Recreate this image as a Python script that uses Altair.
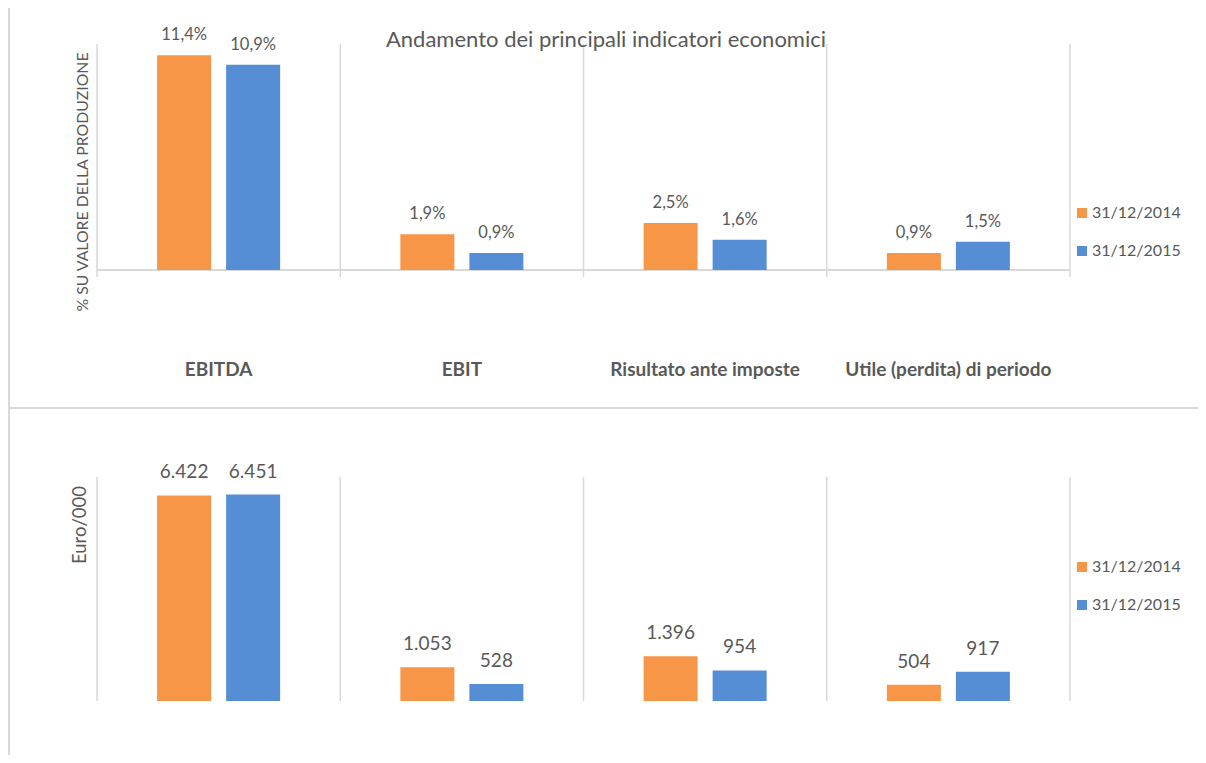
import altair as alt
import pandas as pd

categories = ["EBITDA", "EBIT", "Risultato ante imposte", "Utile (perdita) di periodo"]
series = ["31/12/2014", "31/12/2015"]
pct_2014 = [11.4, 1.9, 2.5, 0.9]
pct_2015 = [10.9, 0.9, 1.6, 1.5]
eur_2014 = [6422, 1053, 1396, 504]
eur_2015 = [6451, 528, 954, 917]

title_text = "Andamento dei principali indicatori economici"
ytitle_top = "% SU VALORE DELLA PRODUZIONE"
ytitle_bot = "Euro/000"

ORANGE = "#F79646"
BLUE = "#558ED5"
GREY = "#595959"
GRID = "#D9D9D9"
FONT = "Lato"


def fmt_pct(v):
    return f"{v:.1f}%".replace(".", ",")


def fmt_eur(v):
    return f"{v:,}".replace(",", ".")


top_rows = []
bot_rows = []
for i, c in enumerate(categories):
    top_rows.append({"cat": c, "series": series[0], "value": pct_2014[i], "label": fmt_pct(pct_2014[i])})
    top_rows.append({"cat": c, "series": series[1], "value": pct_2015[i], "label": fmt_pct(pct_2015[i])})
    bot_rows.append({"cat": c, "series": series[0], "value": eur_2014[i], "label": fmt_eur(eur_2014[i])})
    bot_rows.append({"cat": c, "series": series[1], "value": eur_2015[i], "label": fmt_eur(eur_2015[i])})
top_df = pd.DataFrame(top_rows)
bot_df = pd.DataFrame(bot_rows)
cat_df = pd.DataFrame({"cat": categories})
last_df = pd.DataFrame({"cat": [categories[-1]]})
one_df = pd.DataFrame({"a": [0]})

W, H = 1190, 747

X_SCALE = alt.Scale(domain=categories, range=[89, 1062], paddingInner=0, paddingOuter=0)
XO_SCALE = alt.Scale(domain=series, paddingInner=0.2174, paddingOuter=0.871)
Y_TOP = alt.Scale(domain=[0, 12], range=[262, 36], nice=False, zero=True)
Y_BOT = alt.Scale(domain=[0, 7000], range=[693, 469], nice=False, zero=True)
COLOR_SCALE = alt.Scale(domain=series, range=[ORANGE, BLUE])


def xenc(**kw):
    return alt.X("cat:N", scale=X_SCALE, sort=categories, axis=None, **kw)


def xoenc():
    return alt.XOffset("series:N", scale=XO_SCALE, sort=series)


def legend(y):
    return alt.Legend(
        title=None, orient="none", legendX=1066, legendY=y,
        symbolType="square", symbolSize=100, symbolStrokeWidth=0,
        labelFontSize=16, labelFont=FONT, labelColor=GREY,
        labelOffset=2, rowPadding=22,
    )


# gridlines
grid_top = alt.Chart(cat_df).mark_rule(color=GRID, strokeWidth=1.5).encode(
    x=xenc(bandPosition=0), y=alt.value(36), y2=alt.value(269))
grid_top_end = alt.Chart(last_df).mark_rule(color=GRID, strokeWidth=1.5).encode(
    x=xenc(bandPosition=1), y=alt.value(36), y2=alt.value(269))
grid_bot = alt.Chart(cat_df).mark_rule(color=GRID, strokeWidth=1.5).encode(
    x=xenc(bandPosition=0), y=alt.value(469), y2=alt.value(693))
grid_bot_end = alt.Chart(last_df).mark_rule(color=GRID, strokeWidth=1.5).encode(
    x=xenc(bandPosition=1), y=alt.value(469), y2=alt.value(693))

baseline_top = alt.Chart(one_df).mark_rule(color=GRID, strokeWidth=2).encode(
    x=alt.value(89), x2=alt.value(1062), y=alt.value(262))
divider = alt.Chart(one_df).mark_rule(color=GRID, strokeWidth=2).encode(
    x=alt.value(0), x2=alt.value(W), y=alt.value(400))
left_border = alt.Chart(one_df).mark_rule(color=GRID, strokeWidth=2).encode(
    x=alt.value(1), y=alt.value(0), y2=alt.value(H))

# bars
bars_top = alt.Chart(top_df).mark_bar().encode(
    x=xenc(), xOffset=xoenc(),
    y=alt.Y("value:Q", scale=Y_TOP, axis=None),
    color=alt.Color("series:N", scale=COLOR_SCALE, legend=legend(197)),
)
labels_top = alt.Chart(top_df).mark_text(
    dy=-15, fontSize=16.5, font=FONT, color=GREY, baseline="alphabetic"
).encode(
    x=xenc(), xOffset=xoenc(),
    y=alt.Y("value:Q", scale=Y_TOP, axis=None),
    text="label:N",
)
bars_bot = alt.Chart(bot_df).mark_bar().encode(
    x=xenc(), xOffset=xoenc(),
    y=alt.Y("value:Q", scale=Y_BOT, axis=None),
    color=alt.Color("series:N", scale=COLOR_SCALE, legend=legend(551)),
)
labels_bot = alt.Chart(bot_df).mark_text(
    dy=-17, fontSize=19, font=FONT, color=GREY, baseline="alphabetic"
).encode(
    x=xenc(), xOffset=xoenc(),
    y=alt.Y("value:Q", scale=Y_BOT, axis=None),
    text="label:N",
)

cat_labels = alt.Chart(cat_df).mark_text(
    fontSize=19, font=FONT, fontWeight="bold", color=GREY, baseline="middle"
).encode(x=xenc(), y=alt.value(362), text="cat:N")

title = alt.Chart(pd.DataFrame({"t": [title_text]})).mark_text(
    fontSize=22, font=FONT, color=GREY, baseline="middle", align="center"
).encode(x=alt.value(598), y=alt.value(32), text="t:N")

ytop = alt.Chart(pd.DataFrame({"t": [ytitle_top]})).mark_text(
    fontSize=15.8, font=FONT, color=GREY, baseline="middle", align="center", angle=270
).encode(x=alt.value(75), y=alt.value(174), text="t:N")

ybot = alt.Chart(pd.DataFrame({"t": [ytitle_bot]})).mark_text(
    fontSize=18.5, font=FONT, color=GREY, baseline="middle", align="center", angle=270
).encode(x=alt.value(72), y=alt.value(517), text="t:N")

chart = alt.layer(
    grid_top, grid_top_end, grid_bot, grid_bot_end, baseline_top, divider, left_border,
    bars_top, labels_top, bars_bot, labels_bot, cat_labels, title, ytop, ybot,
).resolve_scale(
    y="independent", color="independent"
).properties(
    width=W, height=H, autosize=alt.AutoSizeParams(type="none"), padding=0,
    background="white",
).configure_view(stroke=None)

chart.save("out.html", embed_options={"renderer": "svg", "actions": False})
